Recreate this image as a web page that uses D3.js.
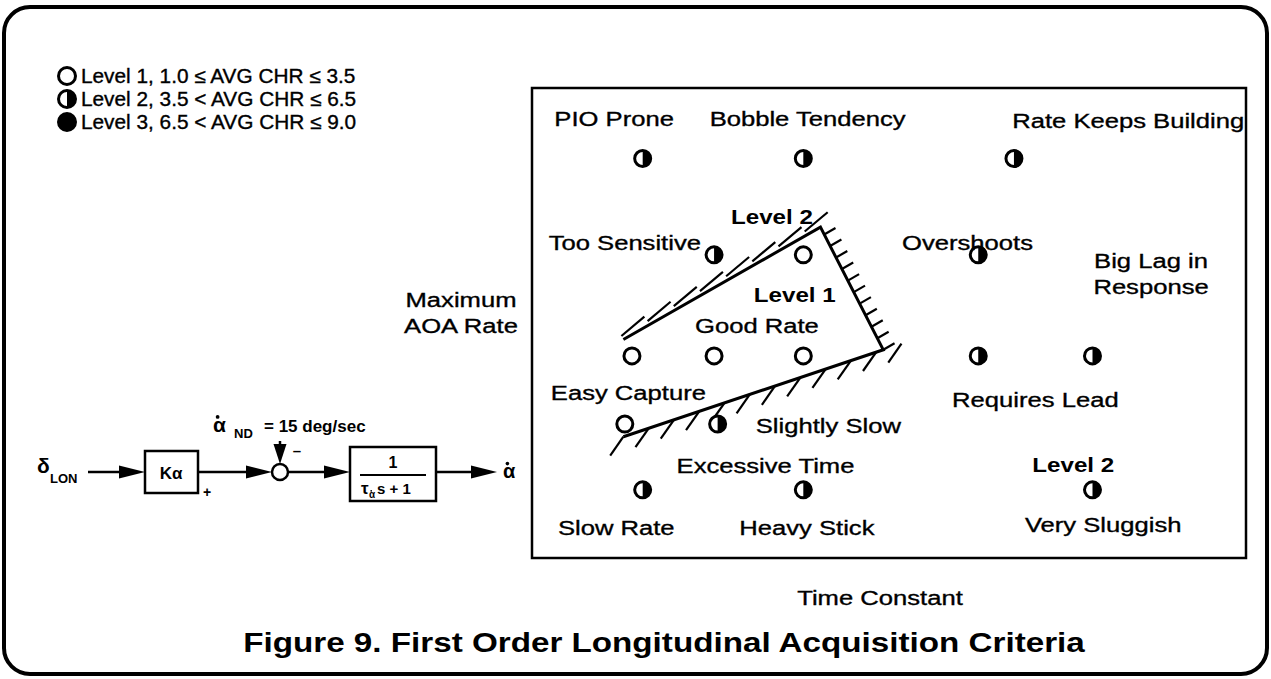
<!DOCTYPE html>
<html>
<head>
<meta charset="utf-8">
<script src="https://cdn.jsdelivr.net/npm/d3@7"></script>
<style>
  body { margin: 0; background: #fff; }
  text { font-family: "Liberation Sans", Arial, Helvetica, sans-serif; fill: #000; }
  .lbl { font-size: 21px; stroke: #000; stroke-width: 0.35px; }
  .bold { font-weight: bold; }
</style>
</head>
<body>
<svg id="chart"></svg>
<script>
// ---- data (time constant / max AOA rate in arbitrary 0..100 units) ----
const markerTime  = [15.5, 38, 67.5, 25.5, 38, 62.5, 14, 25.5, 38, 62.5, 78.5, 13, 26, 15.5, 38, 78.5];
const markerRate  = [85, 85, 85, 64.5, 64.5, 64.5, 43, 43, 43, 43, 43, 28.5, 28.5, 14.5, 14.5, 14.5];
const markerLevel = [2, 2, 2, 2, 1, 2, 1, 1, 1, 2, 2, 1, 2, 2, 2, 2];

const labelText = ["PIO Prone", "Bobble Tendency", "Rate Keeps Building", "Too Sensitive", "Overshoots",
  "Big Lag in", "Response", "Good Rate", "Easy Capture", "Requires Lead", "Slightly Slow",
  "Excessive Time", "Slow Rate", "Heavy Stick", "Very Sluggish"];
const labelTime = [11.5, 38.6, 83.5, 13, 61, 86.7, 86.7, 31.5, 13.5, 70.5, 41.5, 32.7, 11.8, 38.5, 80];
const labelRate = [93.6, 93.6, 93, 67.2, 67.2, 63.4, 57.7, 49.4, 35.3, 33.8, 28.1, 19.6, 6.4, 6.4, 7.2];

const regionText = ["Level 2", "Level 1", "Level 2"];
const regionTime = [33.6, 36.8, 75.8];
const regionRate = [72.6, 56.0, 19.8];

// Level 1 boundary: upper-left end, top apex, right apex, lower-left end
const boundTime = [12.8, 40.4, 49.2, 12.8];
const boundRate = [46.5, 70.4, 44.3, 25.8];

const legendLabels = ["Level 1, 1.0 \u2264 AVG CHR \u2264 3.5", "Level 2, 3.5 < AVG CHR \u2264 6.5", "Level 3, 6.5 < AVG CHR \u2264 9.0"];
const legendLevels = [1, 2, 3];

const W = 1271, H = 679;
const box = { left: 532, right: 1246, top: 88, bottom: 558 };
const stretch = 1.22;   // the scanned lettering is wider than the installed fonts

const svg = d3.select("#chart").attr("width", W).attr("height", H);

// outer rounded frame
svg.append("rect")
  .attr("x", 4).attr("y", 7).attr("width", W - 8).attr("height", H - 12)
  .attr("rx", 26).attr("fill", "none").attr("stroke", "#000").attr("stroke-width", 4);

const x = d3.scaleLinear().domain([0, 100]).range([box.left, box.right]);
const y = d3.scaleLinear().domain([0, 100]).range([box.bottom, box.top]);

// plot frame
svg.append("rect")
  .attr("x", box.left).attr("y", box.top)
  .attr("width", box.right - box.left).attr("height", box.bottom - box.top)
  .attr("fill", "none").attr("stroke", "#000").attr("stroke-width", 2.5);

function marker(g, level, r) {
  g.append("circle").attr("r", r)
    .attr("fill", level === 3 ? "#000" : "#fff")
    .attr("stroke", "#000").attr("stroke-width", 3);
  if (level === 2) {
    g.append("path")
      .attr("d", `M0,${-r} A${r},${r} 0 0 1 0,${r} Z`)
      .attr("fill", "#000");
  }
}

// wide text helper: places a horizontally stretched text at (px, py)
function wideText(cls, px, py, txt, sx, anchor) {
  return svg.append("text").attr("class", cls)
    .attr("transform", `translate(${px},${py}) scale(${sx},1)`)
    .attr("text-anchor", anchor || "middle")
    .text(txt);
}

// ---- boundary with hatching ----
const pts = boundTime.map((t, i) => [x(t), y(boundRate[i])]);
svg.append("path")
  .attr("d", d3.line()([pts[0], pts[1], pts[2], pts[3]]))
  .attr("fill", "none").attr("stroke", "#000").attr("stroke-width", 3)
  .attr("stroke-linejoin", "miter");

function hatch(p0, p1, n, t0, t1, angle, len, off) {
  const a = angle * Math.PI / 180;
  const dx = Math.cos(a), dy = Math.sin(a);
  const lx = p1[0] - p0[0], ly = p1[1] - p0[1], ll = Math.hypot(lx, ly);
  // outward normal is taken on the side the hatch points to
  let nx = -ly / ll, ny = lx / ll;
  if (nx * dx + ny * dy < 0) { nx = -nx; ny = -ny; }
  d3.range(n).forEach(i => {
    const t = t0 + (t1 - t0) * (n === 1 ? 0.5 : i / (n - 1));
    const bx = p0[0] + lx * t + nx * off, by = p0[1] + ly * t + ny * off;
    svg.append("line")
      .attr("x1", bx).attr("y1", by)
      .attr("x2", bx + dx * len).attr("y2", by + dy * len)
      .attr("stroke", "#000").attr("stroke-width", 2.2);
  });
}
hatch(pts[0], pts[1], 8, 0.0, 0.93, -40, 30, 4);
hatch(pts[1], pts[2], 11, 0.06, 1.0, -30, 13, 0);
hatch(pts[3], pts[2], 12, 0.0, 1.07, 125, 23, 0);

// ---- markers ----
markerLevel.forEach((lv, i) => {
  const g = svg.append("g").attr("transform", `translate(${x(markerTime[i])},${y(markerRate[i])})`);
  marker(g, lv, 8);
});

// ---- labels ----
labelText.forEach((d, i) => {
  wideText("lbl", x(labelTime[i]), y(labelRate[i]) + 7.5, d, stretch);
});
regionText.forEach((d, i) => {
  wideText("bold", x(regionTime[i]), y(regionRate[i]) + 7.5, d, 1.15)
    .style("font-size", "21px");
});

// axis titles
wideText("lbl", 461, 307, "Maximum", stretch);
wideText("lbl", 461, 333, "AOA Rate", stretch);
wideText("lbl", 880, 605, "Time Constant", stretch);

// ---- legend ----
legendLabels.forEach((d, i) => {
  const ly = 76 + i * 23;
  marker(svg.append("g").attr("transform", `translate(67,${ly})`), legendLevels[i], 8.5);
  wideText("lbl", 81, ly + 7, d, 1.04, "start").style("font-size", "20px");
});

// ---- block diagram ----
const sy = 472;
function arrow(x1, y1, x2, y2, L) {
  const ang = Math.atan2(y2 - y1, x2 - x1);
  const hw = 6.5;
  const bx = x2 - L * Math.cos(ang), by = y2 - L * Math.sin(ang);
  svg.append("line").attr("x1", x1).attr("y1", y1).attr("x2", bx).attr("y2", by)
    .attr("stroke", "#000").attr("stroke-width", 2.5);
  svg.append("polygon")
    .attr("points", [[x2, y2],
      [bx - hw * Math.sin(ang), by + hw * Math.cos(ang)],
      [bx + hw * Math.sin(ang), by - hw * Math.cos(ang)]].map(p => p.join(",")).join(" "))
    .attr("fill", "#000");
}
function alphaDot(ax, ay, size) {
  svg.append("text").attr("class", "bold").attr("x", ax).attr("y", ay)
    .style("font-size", size + "px").text("\u03b1");
  svg.append("circle").attr("cx", ax + size * 0.22).attr("cy", ay - size * 0.72)
    .attr("r", size * 0.09).attr("fill", "#000");
}

svg.append("text").attr("class", "bold").attr("x", 37).attr("y", 473)
  .style("font-size", "21px").text("\u03b4");
svg.append("text").attr("class", "bold").attr("x", 50).attr("y", 483)
  .style("font-size", "13px").text("LON");
arrow(88, sy, 145, sy, 26);

svg.append("rect").attr("x", 145).attr("y", 451).attr("width", 53).attr("height", 42)
  .attr("fill", "none").attr("stroke", "#000").attr("stroke-width", 2.5);
svg.append("text").attr("class", "bold").attr("x", 171).attr("y", 479)
  .attr("text-anchor", "middle").style("font-size", "17px").text("K\u03b1");

arrow(198, sy, 272, sy, 26);
svg.append("circle").attr("cx", 280).attr("cy", sy).attr("r", 8)
  .attr("fill", "#fff").attr("stroke", "#000").attr("stroke-width", 2.5);
svg.append("text").attr("class", "bold").attr("x", 207).attr("y", 497)
  .attr("text-anchor", "middle").style("font-size", "14px").text("+");
arrow(280, 441, 280, 464, 20);
svg.append("text").attr("class", "bold").attr("x", 297).attr("y", 456)
  .attr("text-anchor", "middle").style("font-size", "15px").text("\u2013");

alphaDot(213, 432, 21);
svg.append("text").attr("class", "bold").attr("x", 234).attr("y", 438)
  .style("font-size", "13px").text("ND");
svg.append("text").attr("class", "bold").attr("x", 264).attr("y", 432)
  .style("font-size", "17px").text("=  15 deg/sec");

arrow(288, sy, 350, sy, 26);
svg.append("rect").attr("x", 350).attr("y", 447).attr("width", 86).attr("height", 54)
  .attr("fill", "none").attr("stroke", "#000").attr("stroke-width", 2.5);
svg.append("text").attr("class", "bold").attr("x", 393).attr("y", 468)
  .attr("text-anchor", "middle").style("font-size", "16px").text("1");
svg.append("line").attr("x1", 360).attr("x2", 426).attr("y1", 475).attr("y2", 475)
  .attr("stroke", "#000").attr("stroke-width", 2);
svg.append("text").attr("class", "bold").attr("x", 361).attr("y", 494)
  .style("font-size", "17px").text("\u03c4");
alphaDot(369, 498, 10);
svg.append("text").attr("class", "bold").attr("x", 377).attr("y", 494)
  .style("font-size", "15px").text("s + 1");

arrow(436, sy, 497, sy, 26);
alphaDot(503, 478, 20);

// ---- caption ----
wideText("bold", 664, 652, "Figure 9. First Order Longitudinal Acquisition Criteria", 1.23)
  .style("font-size", "27px");
</script>
</body>
</html>
